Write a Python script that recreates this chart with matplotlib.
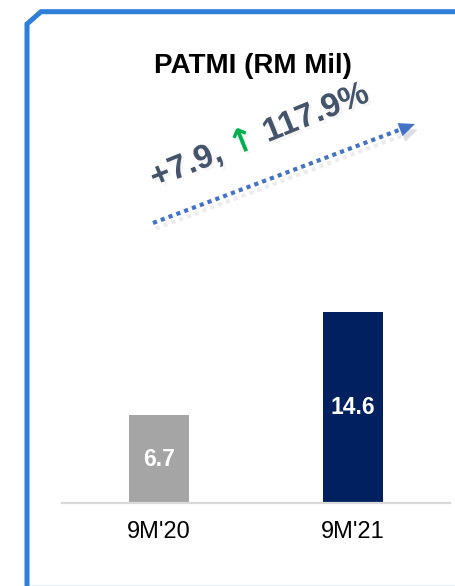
import numpy as np, matplotlib
matplotlib.use("Agg"); import matplotlib.pyplot as plt
from matplotlib.lines import Line2D
from matplotlib.patches import Polygon
import matplotlib.patheffects as pe

plt.rcParams['font.family'] = ['Liberation Sans', 'DejaVu Sans']

periods = ["9M'20", "9M'21"]
patmi = [6.7, 14.6]
bar_colors = ["#A5A5A5", "#002060"]
change_abs = "+7.9,"
change_pct = "117.9%"

W, H = 456, 586
fig = plt.figure(figsize=(W/100, H/100), dpi=100)
fig.patch.set_facecolor("white")
def fx(x): return x/W
def fy(y): return 1 - y/H

# bar axes: baseline at y=503, 13.06 px per unit
ax = fig.add_axes([fx(62), fy(503), (450-62)/W, 16*13.06/H])
ax.bar(periods, patmi, width=0.314, color=bar_colors)
ax.set_xlim(-0.5, 1.5); ax.set_ylim(0, 16)
for i, v in enumerate(patmi):
    ax.text(i, v/2, f"{v:.1f}", ha="center", va="center", color="white",
            fontsize=16.5, fontweight="bold")
for s in ("top", "right", "left"):
    ax.spines[s].set_visible(False)
ax.spines["bottom"].set_color("#D9D9D9"); ax.spines["bottom"].set_linewidth(1.6)
ax.set_yticks([])
ax.tick_params(axis="x", length=0, pad=13, labelsize=17)
ax.patch.set_alpha(0)

# title
fig.text(fx(252.5), fy(73), "PATMI (RM Mil)", ha="center", va="baseline",
         fontsize=20, fontweight="bold")

# border frame
blue = "#2F7ED8"
fig.add_artist(Line2D([fx(27), fx(27), fx(41), fx(456)], [fy(590), fy(24), fy(11.7), fy(11.7)],
                      transform=fig.transFigure, color=blue, lw=3.6, solid_joinstyle="miter"))
fig.add_artist(Line2D([fx(27), fx(456)], [fy(585.5), fy(585.5)],
                      transform=fig.transFigure, color="#7FA9DC", lw=1.0))

# dotted growth arrow
x0, y0, x1, y1 = 153, 223, 415, 124
d = np.array([x1-x0, y1-y0], float); L = np.hypot(*d); u = d/L; n = np.array([-u[1], u[0]])
hl, hw = 16, 7
bx, by = np.array([x1, y1]) - u*hl
shadow = [pe.SimpleLineShadow(offset=(2, -4), shadow_color="gray", alpha=0.15), pe.Normal()]
fig.add_artist(Line2D([fx(x0), fx(bx)], [fy(y0), fy(by)], transform=fig.transFigure,
                      color="#4472C4", lw=3, linestyle=(0, (1, 1)), dash_capstyle="butt",
                      path_effects=shadow))
head = [[x1, y1], [bx + n[0]*hw, by + n[1]*hw], [bx - n[0]*hw, by - n[1]*hw]]
fig.add_artist(Polygon([[fx(p[0]), fy(p[1])] for p in head], closed=True, transform=fig.transFigure,
                       facecolor="#4472C4", edgecolor="none",
                       path_effects=[pe.SimplePatchShadow(offset=(2, -4), alpha=0.15), pe.Normal()]))

# rotated change text
ang = 22.0
dirv = np.array([np.cos(np.radians(ang)), -np.sin(np.radians(ang))])
pieces = [(change_abs + " ", "#44546A", "bold", "Liberation Sans", 24),
          ("\u2191", "#00B050", "bold", "DejaVu Sans", 24),
          (" " + change_pct, "#44546A", "bold", "Liberation Sans", 24)]
pos = np.array([155.0, 188.0])
r = fig.canvas.get_renderer()
tshadow = [pe.SimplePatchShadow(offset=(2, -2), shadow_rgbFace="#b0b0b0", alpha=0.12), pe.Normal()]
for txt, col, wt, fam, fs in pieces:
    fig.text(fx(pos[0]), fy(pos[1]), txt, rotation=ang, rotation_mode="anchor",
             ha="left", va="baseline", fontsize=fs, fontweight=wt, color=col,
             family=fam, path_effects=tshadow)
    tmp = fig.text(0, 0, txt.replace(" ", "\u00a0"), fontsize=fs, fontweight=wt, family=fam)
    w = tmp.get_window_extent(r).width
    tmp.remove()
    pos = pos + dirv*w

fig.savefig("out.png", dpi=100)
